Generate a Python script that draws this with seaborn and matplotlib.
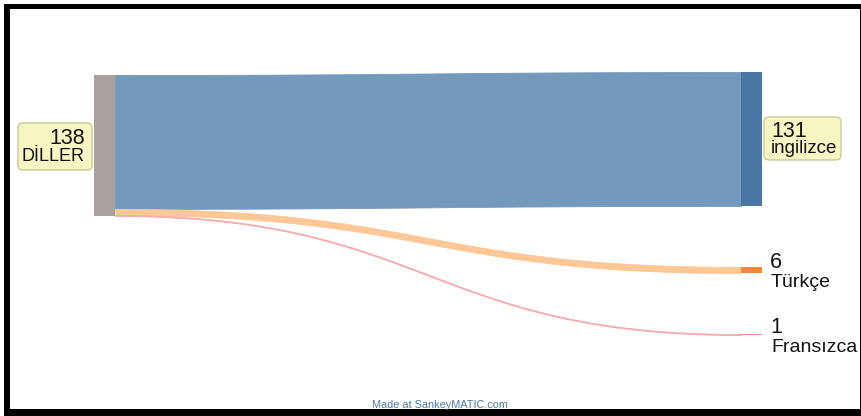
import numpy as np
import matplotlib
matplotlib.use('Agg')
import matplotlib.pyplot as plt
import seaborn as sns
from matplotlib.patches import FancyBboxPatch, Rectangle

# Sankey data: one source, three targets
source = 'DİLLER'
targets = ['ingilizce', 'Türkçe', 'Fransızca']
values = [131, 6, 1]

node_colors = ['#4a78a6', '#f58a2d', '#f08888']
flow_colors = ['#7399bd', '#fdc896', '#f7aaaa']
source_color = '#aaa09e'

sns.set_theme(style='white')
plt.rcParams['font.family'] = ['Liberation Sans', 'DejaVu Sans']

# layout (pixels)
W, H = 862, 416
k = 1.022           # px per unit
x_left, x_right = 94, 741
node_w = 21
left_top = 75
right_top = 72
gap = 61

fig = plt.figure(figsize=(W / 100, H / 100), dpi=100)
ax = fig.add_axes([0, 0, 1, 1])
ax.set_xlim(0, W)
ax.set_ylim(H, 0)
ax.axis('off')

# black frame around the picture
ax.add_patch(Rectangle((4, 4), 6, 405, color='black', lw=0))
ax.add_patch(Rectangle((4, 4), 858, 5, color='black', lw=0))
ax.add_patch(Rectangle((4, 409), 858, 7, color='black', lw=0))
ax.add_patch(Rectangle((860, 4), 2, 412, color='black', lw=0))

total = sum(values)

# flows
t = np.linspace(0, 1, 200)
x0 = x_left + node_w
x1 = x_right
xs = x0 + (x1 - x0) * (1.5 * t * (1 - t) + t ** 3)
ease = 3 * t ** 2 - 2 * t ** 3
ly = left_top
ry = right_top
right_tops = []
for v, fc in zip(values, flow_colors):
    h = v * k
    top = ly + (ry - ly) * ease
    ax.fill_between(xs, top, top + h, color=fc, lw=0.6, edgecolor=fc, zorder=1)
    right_tops.append(ry)
    ly += h
    ry += h + gap

# nodes
ax.add_patch(Rectangle((x_left, left_top), node_w, total * k, color=source_color, lw=0, zorder=2))
for v, rt, nc in zip(values, right_tops, node_colors):
    ax.add_patch(Rectangle((x_right, rt), node_w, max(v * k, 1.2), color=nc, lw=0, zorder=2))

# labels
txt = dict(color='#111111', zorder=4, va='baseline')
box_kw = dict(boxstyle='round,pad=0,rounding_size=5', fc='#f7f6c2', ec='#c9c994', lw=1, zorder=3)
ax.add_patch(FancyBboxPatch((18, 123), 74, 47, **box_kw))
ax.text(85, 144, str(total), fontsize=15.5, ha='right', **txt)
ax.text(85, 161, source, fontsize=13, ha='right', **txt)

ax.add_patch(FancyBboxPatch((764, 117), 77, 43, **box_kw))
ax.text(771, 137, str(values[0]), fontsize=15.5, ha='left', **txt)
ax.text(771, 153, targets[0], fontsize=13.5, ha='left', **txt)

for v, rt, name in zip(values[1:], right_tops[1:], targets[1:]):
    mid = rt + v * k / 2
    ax.text(770, mid - 2, str(v), fontsize=15.5, ha='left', **txt)
    ax.text(771, mid + 17, name, fontsize=14, ha='left', **txt)

ax.text(440, 405.5, 'Made at SankeyMATIC.com', fontsize=7.8, ha='center', va='center', color='#4a7aa8')

fig.savefig('out.png', dpi=100)
